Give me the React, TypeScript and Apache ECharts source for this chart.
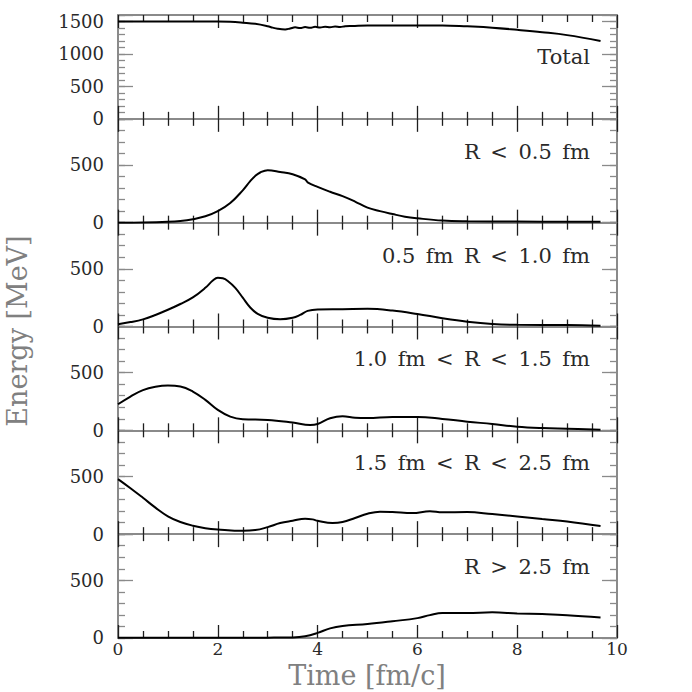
import React, { useEffect, useRef } from "react";
import * as echarts from "echarts";

// ---- data (time in fm/c, energy in MeV) ----
const totalT = [0, 1, 2, 2.25, 2.5, 2.75, 3.0, 3.1, 3.2, 3.35, 3.45, 3.55, 3.65, 3.75, 3.85, 3.95, 4.05, 4.15, 4.25, 4.35, 4.45, 4.55, 4.7, 5, 6, 6.5, 7, 7.5, 8, 8.5, 9, 9.67];
const totalE = [1500, 1500, 1500, 1495, 1482, 1465, 1428, 1405, 1388, 1378, 1392, 1410, 1398, 1414, 1402, 1418, 1406, 1420, 1410, 1424, 1414, 1428, 1432, 1440, 1440, 1440, 1425, 1405, 1372, 1335, 1290, 1200];

const r05T = [0, 0.5, 1, 1.25, 1.5, 1.75, 2, 2.25, 2.5, 2.65, 2.75, 2.85, 3.0, 3.25, 3.5, 3.75, 3.8, 4, 4.25, 4.5, 4.75, 5, 5.25, 5.5, 5.75, 6, 6.5, 7, 8, 9, 9.67];
const r05E = [0, 2, 8, 15, 30, 55, 100, 170, 280, 360, 405, 435, 455, 440, 420, 375, 350, 310, 268, 230, 183, 130, 100, 75, 52, 38, 18, 12, 9, 8, 8];

const r10T = [0, 0.25, 0.5, 0.75, 1, 1.25, 1.5, 1.75, 1.9, 2.0, 2.1, 2.2, 2.35, 2.5, 2.65, 2.8, 3.0, 3.25, 3.5, 3.65, 3.8, 4.0, 4.5, 5, 5.5, 6, 6.5, 7, 7.5, 8, 9, 9.67];
const r10E = [20, 38, 62, 100, 145, 195, 252, 335, 398, 422, 418, 395, 335, 250, 165, 110, 75, 62, 75, 100, 135, 148, 150, 153, 138, 108, 72, 42, 22, 14, 12, 6];

const r15T = [0, 0.25, 0.5, 0.75, 1, 1.25, 1.5, 1.75, 2, 2.25, 2.5, 3, 3.5, 3.85, 4, 4.25, 4.5, 4.75, 5, 5.5, 6, 6.5, 7, 7.5, 8, 8.5, 9, 9.67];
const r15E = [226, 293, 348, 377, 388, 380, 336, 264, 177, 119, 96, 90, 67, 46, 55, 104, 122, 110, 107, 116, 116, 99, 75, 55, 32, 20, 14, 6];

const r25T = [0, 0.25, 0.5, 0.75, 1, 1.25, 1.5, 1.75, 2, 2.5, 2.75, 3, 3.25, 3.5, 3.75, 3.9, 4.0, 4.3, 4.5, 4.75, 5, 5.25, 5.5, 5.9, 6.25, 6.5, 7, 7.5, 8, 8.5, 9, 9.67];
const r25E = [477, 398, 315, 230, 155, 105, 73, 52, 41, 29, 35, 61, 96, 116, 134, 128, 116, 96, 105, 140, 177, 195, 192, 183, 198, 189, 192, 174, 154, 131, 110, 70];

const routT = [0, 1, 2, 3, 3.5, 3.75, 4, 4.25, 4.5, 5, 5.5, 6, 6.25, 6.5, 7, 7.5, 8, 8.5, 9, 9.67];
const routE = [3, 2, 2, 3, 5, 15, 44, 83, 104, 121, 145, 172, 198, 216, 216, 222, 213, 207, 198, 178];

const panelLabels = ["Total", "R\u2002<\u20020.5\u2002fm", "0.5\u2002fm\u2002R\u2002<\u20021.0\u2002fm", "1.0\u2002fm\u2002<\u2002R\u2002<\u20021.5\u2002fm", "1.5\u2002fm\u2002<\u2002R\u2002<\u20022.5\u2002fm", "R\u2002>\u20022.5\u2002fm"];
const panelMax = [1600, 900, 900, 900, 900, 900];
const xTicks = [0, 2, 4, 6, 8, 10];

const panels = [
  [totalT, totalE],
  [r05T, r05E],
  [r10T, r10E],
  [r15T, r15E],
  [r25T, r25E],
  [routT, routE],
];

const FONT = "DejaVu Serif";
const FRAME = "#8a8a8a";
const TICKX = "#1e1e1e";
const GRID_TOP = 15;
const GRID_H = 103.83;
const GRID_LEFT = 118;
const GRID_W = 499;

export default function App() {
  const ref = useRef<HTMLDivElement>(null);
  useEffect(() => {
    if (!ref.current) return;
    const chart = echarts.init(ref.current, null, { renderer: "svg" });
    const grids: any[] = [];
    const xAxes: any[] = [];
    const yAxes: any[] = [];
    const series: any[] = [];
    const graphics: any[] = [];
    panels.forEach(([ts, es], i) => {
      grids.push({ left: GRID_LEFT, width: GRID_W, top: GRID_TOP + i * GRID_H, height: GRID_H });
      const xBase = (pos: string, showLabel: boolean) => ({
        type: "value",
        gridIndex: i,
        position: pos,
        min: xTicks[0],
        max: xTicks[xTicks.length - 1],
        interval: xTicks[1] - xTicks[0],
        axisLine: { show: true, onZero: false, lineStyle: { color: FRAME, width: 2 } },
        axisTick: { show: true, inside: true, length: 13, lineStyle: { color: TICKX, width: 1.3 } },
        minorTick: { show: true, splitNumber: 4, length: 7, lineStyle: { color: TICKX, width: 1.3 } },
        splitLine: { show: false },
        axisLabel: {
          show: showLabel,
          margin: 3,
          fontFamily: FONT,
          fontSize: 17,
          color: "#2a2a2a",
        },
      });
      xAxes.push(xBase("bottom", i === panels.length - 1));
      xAxes.push(xBase("top", false));
      const yMinor = (pos: string, showLabel: boolean) => ({
        type: "value",
        gridIndex: i,
        position: pos,
        min: 0,
        max: panelMax[i],
        interval: 100,
        axisLine: { show: true, onZero: false, lineStyle: { color: FRAME, width: 2 } },
        axisTick: { show: true, inside: true, length: 7, lineStyle: { color: FRAME, width: 1.3 } },
        splitLine: { show: false },
        axisLabel: {
          show: showLabel,
          margin: 14,
          fontFamily: FONT,
          fontSize: 18,
          color: "#2a2a2a",
          formatter: (v: number) => (v % 500 === 0 ? String(v) : ""),
        },
      });
      const yMajor = (pos: string) => ({
        type: "value",
        gridIndex: i,
        position: pos,
        min: 0,
        max: panelMax[i],
        interval: 500,
        axisLine: { show: false, onZero: false },
        axisTick: { show: true, inside: true, length: 15, lineStyle: { color: FRAME, width: 1.3 } },
        splitLine: { show: false },
        axisLabel: { show: false },
      });
      const yStart = yAxes.length;
      yAxes.push(yMinor("left", true));
      yAxes.push(yMinor("right", false));
      yAxes.push(yMajor("left"));
      yAxes.push(yMajor("right"));
      series.push({
        type: "line",
        xAxisIndex: 2 * i,
        yAxisIndex: yStart,
        data: ts.map((t, k) => [t, es[k]]),
        showSymbol: false,
        smooth: 0.4,
        lineStyle: { color: "#000", width: 2 },
        z: 5,
      });
      graphics.push({
        type: "text",
        x: 590,
        y: GRID_TOP + i * GRID_H + (i === 0 ? 42 : 33),
        style: {
          text: panelLabels[i],
          fontFamily: FONT,
          fontSize: 21,
          fill: "#2a2a2a",
          textAlign: "right",
          textVerticalAlign: "middle",
        },
      });
    });
    graphics.push({
      type: "text",
      x: 367,
      y: 675,
      style: {
        text: "Time [fm/c]",
        fontFamily: FONT,
        fontSize: 27,
        fill: "#808080",
        textAlign: "center",
        textVerticalAlign: "middle",
      },
    });
    graphics.push({
      type: "text",
      x: 17,
      y: 331,
      rotation: Math.PI / 2,
      style: {
        text: "Energy [MeV]",
        fontFamily: FONT,
        fontSize: 27,
        fill: "#808080",
        textAlign: "center",
        textVerticalAlign: "middle",
      },
    });
    chart.setOption({
      animation: false,
      backgroundColor: "#ffffff",
      grid: grids,
      xAxis: xAxes,
      yAxis: yAxes,
      series,
      graphic: graphics,
    });
    return () => chart.dispose();
  }, []);
  return <div ref={ref} style={{ position: "fixed", left: 0, top: 0, width: 692, height: 692 }} />;
}
